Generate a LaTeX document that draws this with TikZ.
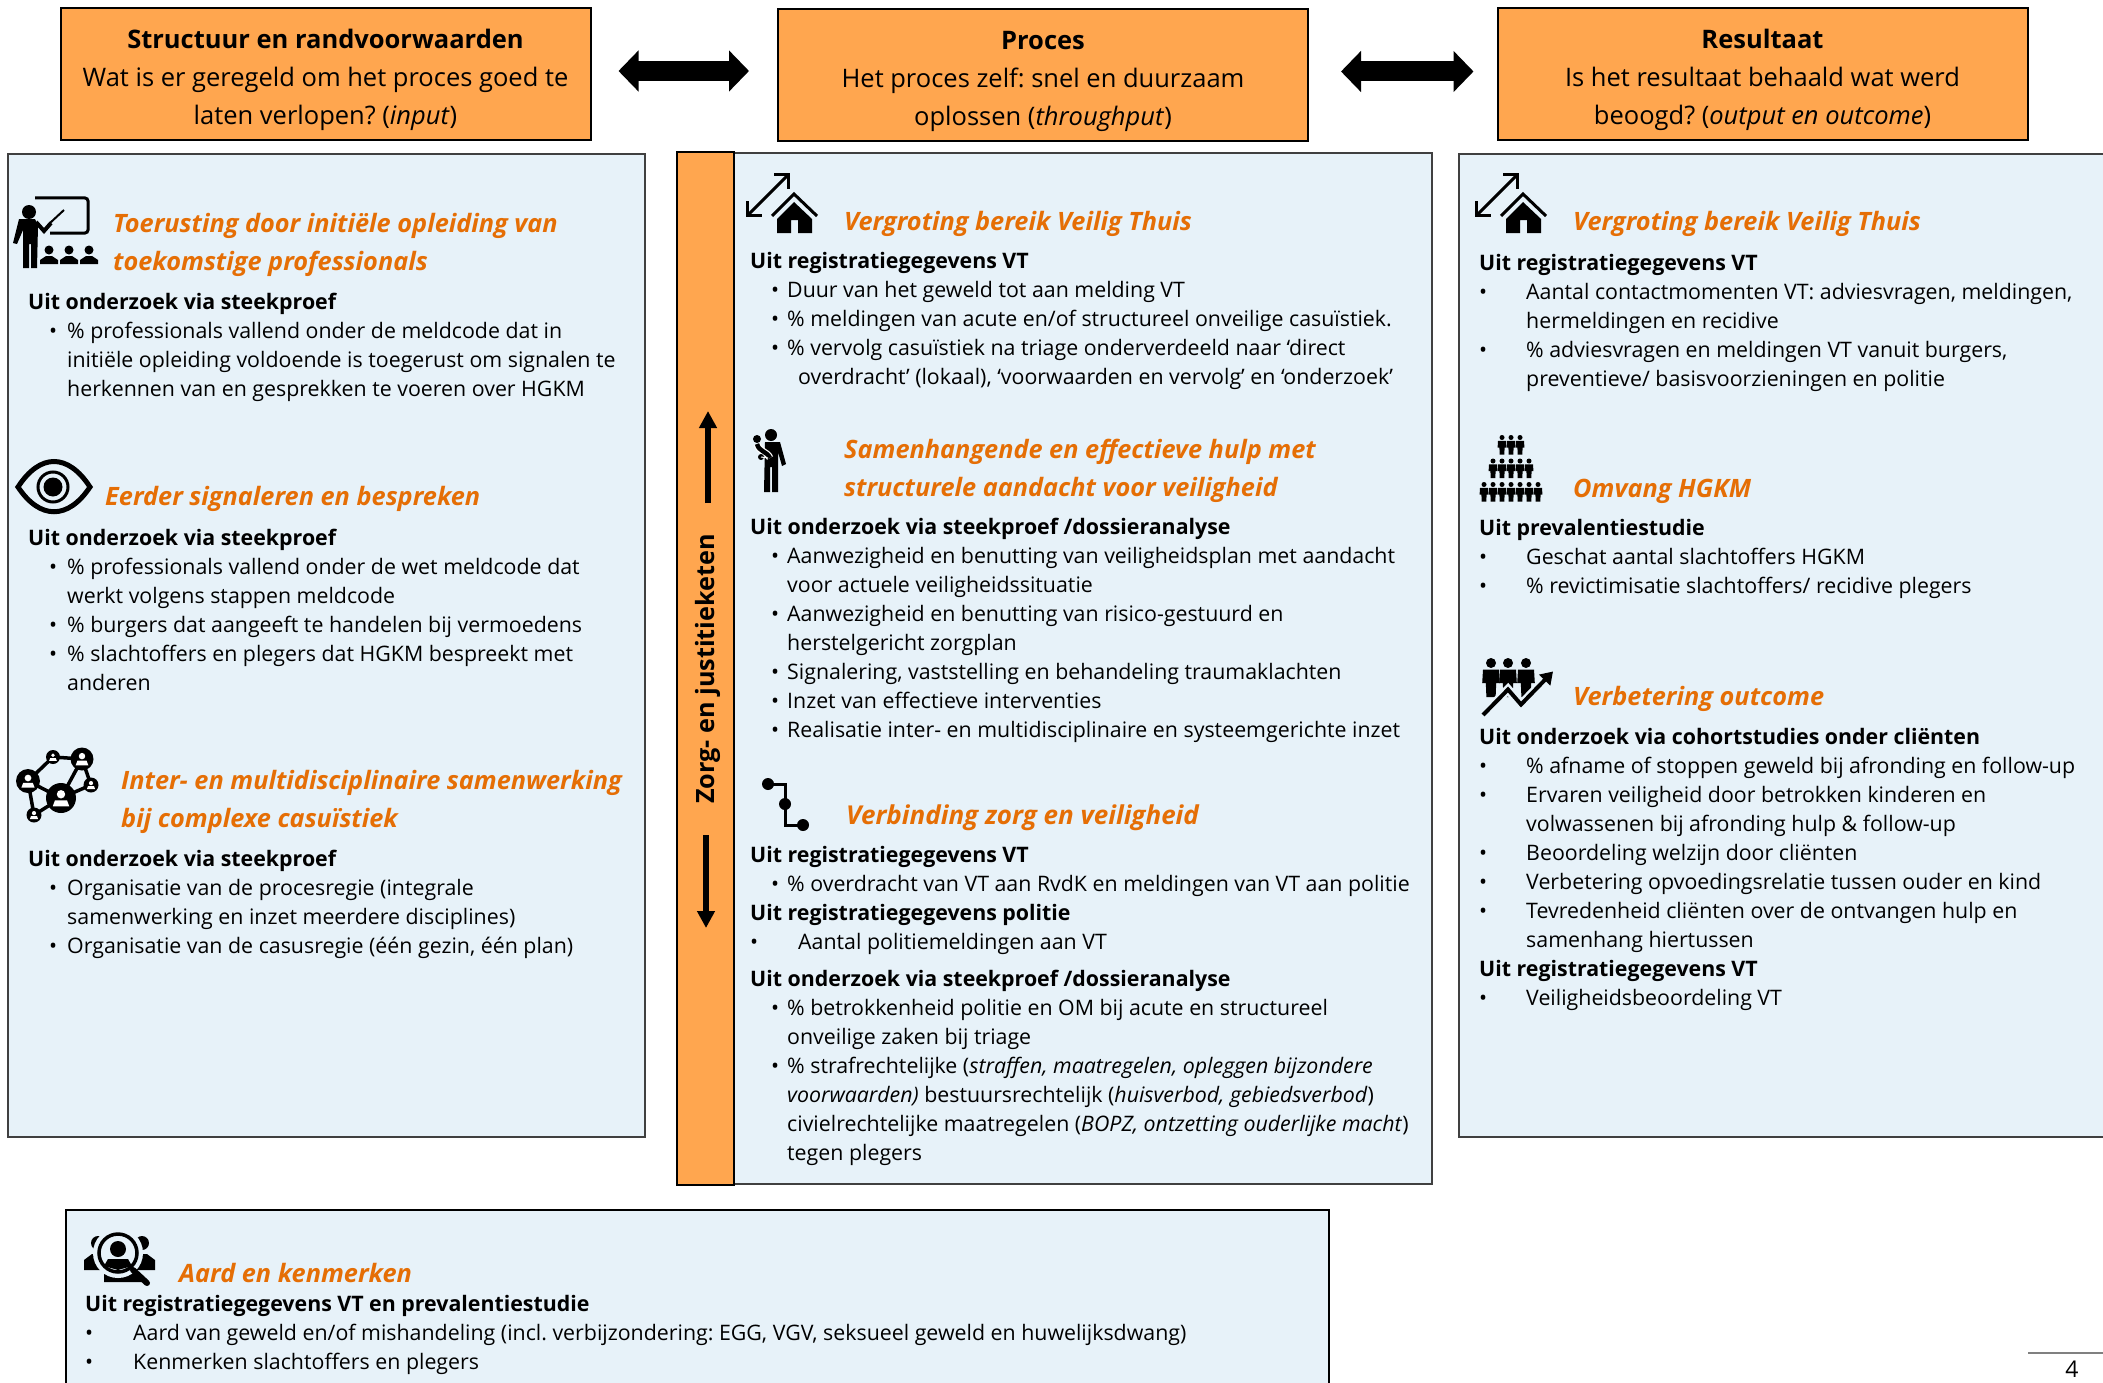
\documentclass[tikz,border=0pt]{standalone}
\usepackage{fontspec}
\setmainfont{Open Sans}
\usetikzlibrary{arrows.meta}
\AtBeginDocument{\frenchspacing}

\definecolor{oranjevlak}{HTML}{FFA64F}
\definecolor{blauwvlak}{HTML}{E7F2F9}
\definecolor{koporanje}{HTML}{E56E05}

\newcommand{\punt}[2]{\hspace*{#1pt}\makebox[#2pt][l]{•}}
\newcommand{\verder}[1]{\hspace*{#1pt}}

\tikzset{
    bovenblok/.style = {draw = black, line width = 2pt, fill = oranjevlak, minimum width = 530pt, minimum height = 132pt, inner sep = 0pt, align = center, font = \fontsize{25.5}{38}\selectfont},
    paneel/.style = {draw = black!75, line width = 2pt, fill = blauwvlak},
    kop/.style = {anchor = north west, inner sep = 0pt, align = left, text = koporanje, font = \fontsize{25.3}{38}\selectfont\bfseries\itshape, execute at begin node = \strut},
    tekst/.style = {anchor = north west, inner sep = 0pt, align = left, font = \fontsize{21.35}{29}\selectfont, execute at begin node = \strut},
    blokpijl/.style = {line width = 20pt, {Triangle[length = 20pt, width = 40pt]}-{Triangle[length = 20pt, width = 40pt]}},
    ketenpijl/.style = {line width = 6pt, -{Triangle[length = 17pt, width = 17pt]}},
    huis/.pic = {
        \draw [line width = 3pt, {Straight Barb[length = 10pt, width = 20pt]}-{Straight Barb[length = 10pt, width = 20pt]}] (0, 44) -- (44, 0);
        \draw [line width = 3pt] (26, 43) -- (48, 21) -- (71, 43);
        \fill (48, 29) -- (66, 46) -- (66, 60) -- (52, 60) -- (52, 47) -- (45, 47) -- (45, 60) -- (31, 60) -- (31, 46) -- cycle;
    },
    figuur/.pic = {
        \fill (0, 0) circle (2.5);
        \fill (-4, 3.3) -- (4, 3.3) -- (4.4, 10) -- (2.6, 10) -- (2.3, 17) -- (-2.3, 17) -- (-2.6, 10) -- (-4.4, 10) -- cycle;
    },
}

\begin{document}
\begin{tikzpicture}[x = 1pt, y = -1pt]
        \useasboundingbox (0, 0) rectangle (2103, 1383);
        \clip (0, 0) rectangle (2103, 1383);

        \node (structuur) at (325.5, 74.5) [bovenblok] {\rule{0pt}{31pt}\textbf{Structuur en randvoorwaarden}\\Wat is er geregeld om het proces goed te\\laten verlopen? (\textit{input})};
        \node (proces) at (1043, 75.5) [bovenblok] {\rule{0pt}{31pt}\textbf{Proces}\\Het proces zelf: snel en duurzaam\\oplossen (\textit{throughput})};
        \node (resultaat) at (1762.5, 74.5) [bovenblok] {\rule{0pt}{31pt}\textbf{Resultaat}\\Is het resultaat behaald wat werd\\beoogd? (\textit{output en outcome})};

        \draw [blokpijl, shorten <= 27pt, shorten >= 28pt] ([yshift = 3.5pt] structuur.east) -- ([yshift = 3.5pt] structuur.east -| proces.west);
        \draw [blokpijl, shorten <= 32pt, shorten >= 23pt] ([yshift = 4pt] proces.east) -- ([yshift = 4pt] proces.east -| resultaat.west);

        \draw [paneel] (8, 154) rectangle (645, 1137);
        \draw [paneel] (734, 153) rectangle (1432, 1184);
        \draw [paneel] (1459, 154) rectangle (2120, 1137);
        \draw [paneel, draw = black] (66, 1210) rectangle (1329, 1400);
        \draw [line width = 2.5pt, fill = oranjevlak] (677, 152) rectangle (734, 1185);

        \node (keten) at (708, 669) [rotate = 90, font = \fontsize{25.2}{30}\selectfont\bfseries] {Zorg- en justitieketen};
        \coordinate (ketenbovenstart) at (708, 503);
        \coordinate (ketenboveneind) at (708, 411);
        \coordinate (ketenonderstart) at (706, 835);
        \coordinate (ketenondereind) at (706, 928);
        \draw [ketenpijl] (ketenbovenstart) -- (ketenboveneind);
        \draw [ketenpijl] (ketenonderstart) -- (ketenondereind);

        % links
        \draw [line width = 3pt, rounded corners = 3pt] (35, 198) -- (88, 198) -- (88, 233) -- (50, 233);
        \fill (29, 212) circle (7);
        \draw [line width = 2pt] (50, 223) -- (64, 210);
        \draw [line width = 4pt] (36, 222) -- (44, 231) -- (51, 223);
        \fill (19, 219) -- (35, 219) -- (38, 226) -- (37, 268) -- (31, 268) -- (31, 244) -- (29, 244) -- (29, 268) -- (23, 268) -- (23, 230) -- (17, 244) -- (13, 243) -- cycle;
        \foreach \xpos in {49, 69, 89} {
            \fill (\xpos, 250) circle (4.5);
            \fill (\xpos - 9, 264) -- (\xpos - 9, 260) -- (\xpos - 3, 256) -- (\xpos + 3, 256) -- (\xpos + 9, 260) -- (\xpos + 9, 264) -- cycle;
        }
        \node (kop1) at (113, 213) [kop] {Toerusting door initiële opleiding van\\toekomstige professionals};
        \node (tekst1) at (28, 292.5) [tekst] {\textbf{Uit onderzoek via steekproef}\\
            \punt{21}{18}\% professionals vallend onder de meldcode dat in\\
            \verder{39}initiële opleiding voldoende is toegerust om signalen te\\
            \verder{39}herkennen van en gesprekken te voeren over HGKM};

        \draw [line width = 5pt] (18, 487) .. controls (40, 453) and (68, 453) .. (90, 487) .. controls (68, 520) and (40, 520) .. cycle;
        \draw [line width = 3pt] (53, 487) circle (15);
        \fill (53, 487) circle (9.5);
        \node (kop2) at (105, 479) [kop] {Eerder signaleren en bespreken};
        \node (tekst2) at (28, 528.5) [tekst] {\textbf{Uit onderzoek via steekproef}\\
            \punt{21}{18}\% professionals vallend onder de wet meldcode dat\\
            \verder{39}werkt volgens stappen meldcode\\
            \punt{21}{18}\% burgers dat aangeeft te handelen bij vermoedens\\
            \punt{21}{18}\% slachtoffers en plegers dat HGKM bespreekt met\\
            \verder{39}anderen};

        \draw [line width = 3.5pt] (28, 781) -- (53, 757) -- (82, 759) -- (61, 798) -- (91, 785) -- (82, 759);
        \draw [line width = 3.5pt] (28, 781) -- (61, 798) -- (34, 815) -- cycle;
        \foreach \xpos/\ypos/\straal in {61/798/15, 28/781/12, 82/759/11.5, 53/757/7, 91/785/7.5, 34/815/7.5} {
            \fill (\xpos, \ypos) circle (\straal);
            \fill [white] (\xpos, \ypos - 0.25 * \straal) circle (0.28 * \straal);
            \fill [white] (\xpos - 0.55 * \straal, \ypos + 0.55 * \straal) -- (\xpos - 0.4 * \straal, \ypos + 0.15 * \straal) -- (\xpos + 0.4 * \straal, \ypos + 0.15 * \straal) -- (\xpos + 0.55 * \straal, \ypos + 0.55 * \straal) -- cycle;
        }
        \node (kop3) at (121, 770.5) [kop] {Inter- en multidisciplinaire samenwerking\\bij complexe casuïstiek};
        \node (tekst3) at (28, 850) [tekst] {\textbf{Uit onderzoek via steekproef}\\
            \punt{21}{18}Organisatie van de procesregie (integrale\\
            \verder{39}samenwerking en inzet meerdere disciplines)\\
            \punt{21}{18}Organisatie van de casusregie (één gezin, één plan)};

        % midden
        \pic at (746, 173) {huis};
        \node (kop4) at (844, 204) [kop] {Vergroting bereik Veilig Thuis};
        \node (tekst4) at (750, 252.5) [tekst] {\textbf{Uit registratiegegevens VT}\\
            \punt{21}{16}Duur van het geweld tot aan melding VT\\
            \punt{21}{16}\% meldingen van acute en/of structureel onveilige casuïstiek.\\
            \punt{21}{16}\% vervolg casuïstiek na triage onderverdeeld naar ‘direct\\
            \verder{48}overdracht’ (lokaal), ‘voorwaarden en vervolg’ en ‘onderzoek’};

        \fill (771, 435) circle (6);
        \fill (765, 442) -- (780, 442) -- (786, 464) -- (782, 466) -- (778, 452) -- (778, 492) -- (772, 492) -- (772, 467) -- (770, 467) -- (770, 492) -- (764, 492) -- cycle;
        \draw [white, line width = 7pt] (757, 444) .. controls (759, 452) and (767, 451) .. (770, 458);
        \draw [line width = 4.5pt] (757, 444) .. controls (759, 452) and (767, 451) .. (770, 458);
        \fill (757, 439) circle (4);
        \fill (761, 457) circle (3);
        \draw [white, line width = 1pt] (761, 457) -- (768, 458);
        \node (kop5) at (844, 439) [kop] {Samenhangende en effectieve hulp met\\structurele aandacht voor veiligheid};
        \node (tekst5) at (750, 517.5) [tekst] {\textbf{Uit onderzoek via steekproef /dossieranalyse}\\
            \punt{21}{16}Aanwezigheid en benutting van veiligheidsplan met aandacht\\
            \verder{37}voor actuele veiligheidssituatie\\
            \punt{21}{16}Aanwezigheid en benutting van risico-gestuurd en\\
            \verder{37}herstelgericht zorgplan\\
            \punt{21}{16}Signalering, vaststelling en behandeling traumaklachten\\
            \punt{21}{16}Inzet van effectieve interventies\\
            \punt{21}{16}Realisatie inter- en multidisciplinaire en systeemgerichte inzet};

        \draw [line width = 3pt] (768, 784) -- (785, 784) -- (785, 825) -- (803, 825);
        \foreach \xpos/\ypos in {768/784, 785/804, 803/825} {
            \fill (\xpos, \ypos) circle (6);
        }
        \node (kop6) at (846, 798) [kop, font = \fontsize{26}{38}\selectfont\bfseries\itshape] {Verbinding zorg en veiligheid};
        \node (tekst6) at (750, 846.5) [tekst] {\textbf{Uit registratiegegevens VT}\\
            \punt{21}{16}\% overdracht van VT aan RvdK en meldingen van VT aan politie\\
            \textbf{Uit registratiegegevens politie}\\
            \punt{0}{48}Aantal politiemeldingen aan VT};
        \node (tekst7) at (750, 969.5) [tekst] {\textbf{Uit onderzoek via steekproef /dossieranalyse}\\
            \punt{21}{16}\% betrokkenheid politie en OM bij acute en structureel\\
            \verder{37}onveilige zaken bij triage\\
            \punt{21}{16}\% strafrechtelijke (\textit{straffen, maatregelen, opleggen bijzondere}\\
            \verder{37}\textit{voorwaarden)} bestuursrechtelijk (\textit{huisverbod, gebiedsverbod})\\
            \verder{37}civielrechtelijke maatregelen (\textit{BOPZ, ontzetting ouderlijke macht})\\
            \verder{37}tegen plegers};

        % rechts
        \pic at (1475, 173) {huis};
        \node (kop7) at (1573, 204) [kop] {Vergroting bereik Veilig Thuis};
        \node (tekst8) at (1479, 254) [tekst] {\textbf{Uit registratiegegevens VT}\\
            \punt{0}{47}Aantal contactmomenten VT: adviesvragen, meldingen,\\
            \verder{47}hermeldingen en recidive\\
            \punt{0}{47}\% adviesvragen en meldingen VT vanuit burgers,\\
            \verder{47}preventieve/ basisvoorzieningen en politie};

        \foreach \xpos in {1502, 1511, 1520} {
            \pic at (\xpos, 437.5) {figuur};
        }
        \foreach \xpos in {1493, 1502, 1511, 1520, 1529} {
            \pic at (\xpos, 461) {figuur};
        }
        \foreach \xpos in {1484, 1493, 1502, 1511, 1520, 1529, 1538} {
            \pic at (\xpos, 484.5) {figuur};
        }
        \node (kop8) at (1573, 471) [kop] {Omvang HGKM};
        \node (tekst9) at (1479, 519) [tekst] {\textbf{Uit prevalentiestudie}\\
            \punt{0}{47}Geschat aantal slachtoffers HGKM\\
            \punt{0}{47}\% revictimisatie slachtoffers/ recidive plegers};

        \foreach \xpos in {1491, 1508, 1526} {
            \pic [scale = 2] at (\xpos, 663) {figuur};
        }
        \draw [blauwvlak, line width = 9pt] (1483, 715) -- (1508, 689.5) -- (1521, 704.5) -- (1545, 680);
        \draw [line width = 4pt, -{Triangle[length = 12pt, width = 15pt]}] (1483, 715) -- (1508, 689.5) -- (1521, 704.5) -- (1553, 671.5);
        \node (kop9) at (1573, 679) [kop] {Verbetering outcome};
        \node (tekst10) at (1479, 728) [tekst] {\textbf{Uit onderzoek via cohortstudies onder cliënten}\\
            \punt{0}{47}\% afname of stoppen geweld bij afronding en follow-up\\
            \punt{0}{47}Ervaren veiligheid door betrokken kinderen en\\
            \verder{47}volwassenen bij afronding hulp \& follow-up\\
            \punt{0}{47}Beoordeling welzijn door cliënten\\
            \punt{0}{47}Verbetering opvoedingsrelatie tussen ouder en kind\\
            \punt{0}{47}Tevredenheid cliënten over de ontvangen hulp en\\
            \verder{47}samenhang hiertussen\\
            \textbf{Uit registratiegegevens VT}\\
            \punt{0}{47}Veiligheidsbeoordeling VT};

        % onder
        \fill (98, 1243) circle (7);
        \fill (142, 1243) circle (7);
        \fill (84, 1270) -- (84, 1260) -- (92, 1254) -- (104, 1254) -- (104, 1270) -- cycle;
        \fill (155, 1270) -- (155, 1260) -- (147, 1254) -- (135, 1254) -- (135, 1270) -- cycle;
        \fill (104, 1282) -- (104, 1270) -- (133, 1270) -- (145, 1282) -- cycle;
        \draw [line width = 6pt, blauwvlak, fill = blauwvlak] (118, 1253) circle (22);
        \draw [line width = 3.5pt] (118, 1253) circle (19);
        \fill (118, 1249) circle (8);
        \fill (104, 1266) -- (108, 1259) -- (128, 1259) -- (132, 1266) -- (118, 1270) -- cycle;
        \draw [line width = 6pt, line cap = round] (133, 1270) -- (147, 1283);
        \node (kop10) at (179, 1255.5) [kop] {Aard en kenmerken};
        \node (tekst11) at (85, 1295.5) [tekst] {\textbf{Uit registratiegegevens VT en prevalentiestudie}\\
            \punt{0}{48}Aard van geweld en/of mishandeling (incl. verbijzondering: EGG, VGV, seksueel geweld en huwelijksdwang)\\
            \punt{0}{48}Kenmerken slachtoffers en plegers};

        \coordinate (lijnlinks) at (2028, 1353);
        \coordinate (lijnrechts) at (2103, 1353);
        \draw [line width = 1.5pt, black!50] (lijnlinks) -- (lijnrechts);
        \node (paginanummer) at (2072, 1369) [font = \fontsize{23}{26}\selectfont] {4};
\end{tikzpicture}
\end{document}
